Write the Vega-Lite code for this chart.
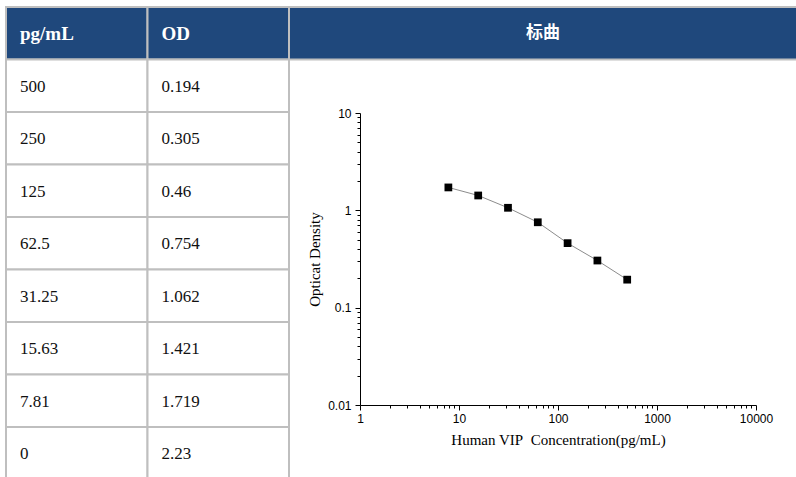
{
  "$schema": "https://vega.github.io/schema/vega-lite/v6.json",
  "width": 796,
  "height": 477,
  "autosize": {"type": "none"},
  "padding": 0,
  "background": "white",
  "config": {"view": {"stroke": null}},
  "datasets": {
    "std": [
      {"conc": 500, "od": 0.194},
      {"conc": 250, "od": 0.305},
      {"conc": 125, "od": 0.46},
      {"conc": 62.5, "od": 0.754},
      {"conc": 31.25, "od": 1.062},
      {"conc": 15.63, "od": 1.421},
      {"conc": 7.81, "od": 1.719},
      {"conc": 0, "od": 2.23}
    ],
    "header": [
      {"row": "header", "key": "conc", "label": "pg/mL"},
      {"row": "header", "key": "od", "label": "OD"},
      {"row": "header", "key": "curve", "label": "标曲"}
    ]
  },
  "resolve": {
    "scale": {"x": "independent", "y": "independent"},
    "axis": {"x": "independent", "y": "independent"}
  },
  "layer": [
    {
      "data": {"name": "header"},
      "transform": [{"filter": "datum.key !== 'curve'"}],
      "encoding": {
        "x": {"field": "key", "type": "nominal", "scale": {"domain": ["conc", "od"], "range": [6, 289], "paddingInner": 0, "paddingOuter": 0}, "axis": null},
        "y": {"field": "row", "type": "nominal", "scale": {"domain": ["header"], "range": [7, 59.5], "paddingInner": 0, "paddingOuter": 0}, "axis": null}
      },
      "layer": [
        {"mark": {"type": "rect", "fill": "#1f487c", "stroke": "#bfbfbf", "strokeWidth": 2}},
        {
          "mark": {"type": "text", "align": "left", "baseline": "middle", "dx": 14, "dy": 1, "font": "Liberation Serif", "fontSize": 19, "fontWeight": "bold", "color": "white"},
          "encoding": {
            "x": {"field": "key", "type": "nominal", "bandPosition": 0},
            "text": {"field": "label", "type": "nominal"}
          }
        }
      ]
    },
    {
      "data": {"name": "header"},
      "transform": [{"filter": "datum.key === 'curve'"}],
      "encoding": {
        "x": {"field": "key", "type": "nominal", "scale": {"domain": ["curve"], "range": [289, 797], "paddingInner": 0, "paddingOuter": 0}, "axis": null},
        "y": {"field": "row", "type": "nominal", "scale": {"domain": ["header"], "range": [7, 59.5], "paddingInner": 0, "paddingOuter": 0}, "axis": null}
      },
      "layer": [
        {"mark": {"type": "rect", "fill": "#1f487c", "stroke": "#bfbfbf", "strokeWidth": 2}},
        {
          "mark": {"type": "text", "align": "center", "baseline": "middle", "font": "Noto Sans CJK SC", "fontSize": 17, "fontWeight": "bold", "color": "white"},
          "encoding": {"text": {"field": "label", "type": "nominal"}}
        }
      ]
    },
    {
      "data": {"name": "std"},
      "transform": [{"fold": ["conc", "od"], "as": ["key", "value"]}],
      "encoding": {
        "x": {"field": "key", "type": "nominal", "scale": {"domain": ["conc", "od"], "range": [6, 289], "paddingInner": 0, "paddingOuter": 0}, "axis": null},
        "y": {"field": "conc", "type": "nominal", "scale": {"domain": [500, 250, 125, 62.5, 31.25, 15.63, 7.81, 0], "range": [59.5, 479.5], "paddingInner": 0, "paddingOuter": 0}, "axis": null}
      },
      "layer": [
        {"mark": {"type": "rect", "fill": "white", "stroke": "#bfbfbf", "strokeWidth": 2}},
        {
          "mark": {"type": "text", "align": "left", "baseline": "middle", "dx": 14, "dy": 1, "font": "Liberation Serif", "fontSize": 17, "color": "#111111"},
          "encoding": {
            "x": {"field": "key", "type": "nominal", "bandPosition": 0},
            "text": {"field": "value", "type": "nominal"}
          }
        }
      ]
    },
    {
      "data": {"name": "std"},
      "transform": [{"filter": "datum.conc > 0"}],
      "encoding": {
        "x": {
          "field": "conc", "type": "quantitative",
          "scale": {"type": "log", "domain": [1, 10000], "range": [360, 756], "nice": false},
          "axis": {
            "orient": "bottom", "offset": -72, "grid": false,
            "values": [1, 2, 3, 4, 5, 6, 7, 8, 9, 10, 20, 30, 40, 50, 60, 70, 80, 90, 100, 200, 300, 400, 500, 600, 700, 800, 900, 1000, 2000, 3000, 4000, 5000, 6000, 7000, 8000, 9000, 10000],
            "format": "~g",
            "labelExpr": "indexof([1, 10, 100, 1000, 10000], datum.value) >= 0 ? datum.label : ''",
            "labelFlush": false, "labelOverlap": false,
            "tickSize": {"condition": {"test": "indexof([1, 10, 100, 1000, 10000], datum.value) >= 0", "value": 5}, "value": 3},
            "tickColor": "black", "domainColor": "black", "labelColor": "black",
            "labelFont": "Liberation Sans", "labelFontSize": 12, "labelPadding": 3,
            "title": "Human VIP\u00a0 Concentration(pg/mL)",
            "titleFont": "Liberation Serif", "titleFontSize": 15, "titleFontWeight": "normal", "titleColor": "black", "titlePadding": 8
          }
        },
        "y": {
          "field": "od", "type": "quantitative",
          "scale": {"type": "log", "domain": [0.01, 10], "range": [405, 113], "nice": false},
          "axis": {
            "orient": "left", "offset": -360, "grid": false,
            "values": [0.01, 0.02, 0.03, 0.04, 0.05, 0.06, 0.07, 0.08, 0.09, 0.1, 0.2, 0.3, 0.4, 0.5, 0.6, 0.7, 0.8, 0.9, 1, 2, 3, 4, 5, 6, 7, 8, 9, 10],
            "format": "~g",
            "labelExpr": "indexof([0.01, 0.1, 1, 10], datum.value) >= 0 ? datum.label : ''",
            "labelOverlap": false,
            "tickSize": {"condition": {"test": "indexof([0.01, 0.1, 1, 10], datum.value) >= 0", "value": 5}, "value": 3},
            "tickColor": "black", "domainColor": "black", "labelColor": "black",
            "labelFont": "Liberation Sans", "labelFontSize": 12, "labelPadding": 4,
            "title": "Opticat Density",
            "titleFont": "Liberation Serif", "titleFontSize": 15, "titleFontWeight": "normal", "titleColor": "black", "titlePadding": 5
          }
        }
      },
      "layer": [
        {"mark": {"type": "line", "color": "#8c8c8c", "strokeWidth": 1}},
        {"mark": {"type": "point", "shape": "square", "filled": true, "color": "black", "size": 60, "opacity": 1}}
      ]
    }
  ]
}
